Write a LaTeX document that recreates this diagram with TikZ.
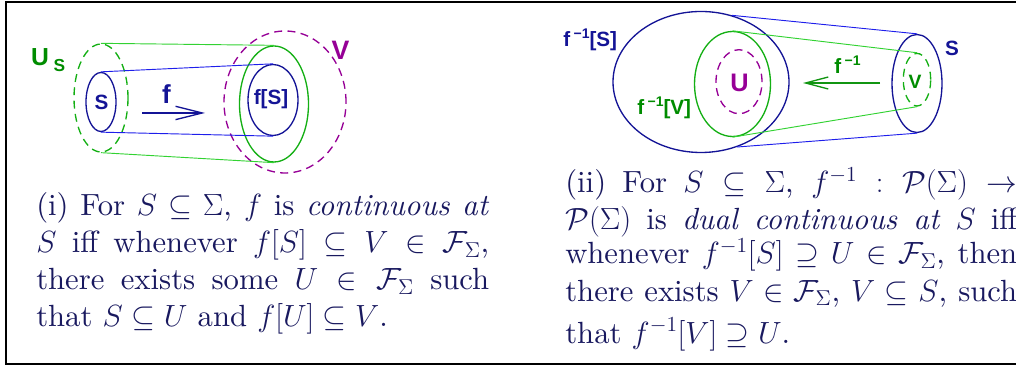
\RequirePackage{fix-cm}
\documentclass[tikz,border=0pt]{standalone}
\usepackage{fontspec}
\setmainfont{lmroman10-regular.otf}[ItalicFont=lmroman10-italic.otf]
\setsansfont{Liberation Sans}
\usetikzlibrary{shapes.geometric,arrows.meta}
\definecolor{navy}{RGB}{20,20,150}
\definecolor{blueline}{RGB}{30,30,235}
\definecolor{gell}{RGB}{20,175,20}
\definecolor{gline}{RGB}{50,210,50}
\definecolor{gtext}{RGB}{0,140,0}
\definecolor{purp}{RGB}{150,0,150}
\definecolor{textc}{RGB}{25,25,95}
\newcommand{\fsz}[1]{\fontsize{#1}{#1}\selectfont}
\newcommand{\inv}{\,\raisebox{0.42em}{\fsz{10.5}−1}}
\newcommand{\jl}[1]{\makebox[339.75pt][s]{#1}}
\newcommand{\jr}[1]{\makebox[339pt][s]{#1}}
\begin{document}
\begin{tikzpicture}[x=0.75pt,y=-0.75pt,
  ell/.style 2 args={ellipse, inner sep=0pt, minimum width={1.5pt*#1}, minimum height={1.5pt*#2}},
  solidell/.style={line width=1pt},
  dashell/.style={line width=1pt, dash pattern=on 6pt off 4pt},
  conn/.style={line width=0.7pt},
  lab/.style={inner sep=0pt, font=\sffamily\bfseries},
  tline/.style={inner sep=0pt, anchor=base west, text=textc, font=\fontsize{23}{27}\selectfont},
  maparrow/.style={line width=1pt}
]
\useasboundingbox (0,0) rectangle (1016,366);
\draw[line width=1.5pt] (1016,2) -- (6,2) -- (6,364) -- (1016,364);

% ---------- panel (i)
\node[ell={27}{54}, draw=gell, dashell] (US) at (101,98) {};
\node[ell={15}{29.5}, draw=navy, solidell] (S1) at (101,102) {};
\node[ell={61}{71}, draw=purp, dashell] (V1) at (285,102) {};
\node[ell={34.5}{58}, draw=gell, solidell] (G1) at (274,104) {};
\node[ell={25}{35.5}, draw=navy, solidell] (FS) at (273,100) {};
\draw[blueline, conn] (S1.north) -- (FS.north);
\draw[blueline, conn] (S1.south) -- (FS.south);
\draw[gline, conn] (US.north) -- (G1.north);
\draw[gline, conn] (US.south) -- (G1.south);
\coordinate (fa) at (142,113);
\coordinate (fb) at (205,113);
\draw[navy, maparrow, -{Straight Barb[length=20pt,width=10pt,line width=1pt]}] (fa) -- (fb);
\node[lab, text=navy, font=\sffamily\bfseries\fsz{19.5}, anchor=base] (flab) at (166.5,104) {f};
\node[lab, text=navy, font=\sffamily\bfseries\fsz{15.5}] (Slab) at (101.5,102.5) {S};
\node[lab, text=navy, font=\sffamily\bfseries\fsz{15.5}, anchor=base] (FSlab) at (271,105) {f[S]};
\node[lab, text=gtext, font=\sffamily\bfseries\fsz{18.5}] (Ulab) at (40,57.5) {U};
\node[lab, text=gtext, font=\sffamily\bfseries\fsz{13}] (Usub) at (59.5,66) {S};
\node[lab, text=purp, font=\sffamily\bfseries\fsz{20}] (Vlab) at (340.5,50) {V};

\node[tline] (t1a) at (36,216) {\jl{(i) For $S\subseteq\Sigma$, $f$ is \emph{continuous at}}};
\node[tline] (t1b) at (36,253) {\jl{$S$ iff whenever $f[S]\subseteq V\in\mathcal{F}_\Sigma$,}};
\node[tline] (t1c) at (36,290) {\jl{there exists some $U\in\mathcal{F}_\Sigma$ such}};
\node[tline] (t1d) at (36,326) {that $S\subseteq U$ and $f[U]\subseteq V$.};

% ---------- panel (ii)
\node[ell={88}{70.5}, draw=navy, solidell] (BS) at (701,82) {};
\node[ell={38}{52.5}, draw=gell, solidell] (FV) at (732.5,84) {};
\node[ell={23}{32}, draw=purp, dashell] (U2) at (739,81.7) {};
\node[ell={25}{49}, draw=navy, solidell] (S2) at (917,83.5) {};
\node[ell={13.7}{26.3}, draw=gell, dashell] (V2) at (917,79.7) {};
\draw[blueline, conn] (BS.65) -- (S2.north);
\draw[blueline, conn] (BS.-61) -- (S2.south);
\draw[gline, conn] (FV.north) -- (V2.north);
\draw[gline, conn] (FV.south) -- (V2.south);
\coordinate (ga) at (880,83);
\coordinate (gb) at (803,83);
\draw[gell!85!black, maparrow, -{Straight Barb[length=17pt,width=9pt,line width=1pt]}] (ga) -- (gb);
\node[lab, text=gtext, font=\sffamily\bfseries\fsz{15.5}, anchor=base west] (ginv) at (834,74) {f\inv};
\node[lab, text=navy, font=\sffamily\bfseries\fsz{15.5}, anchor=base west] (BSlab) at (563,47) {f\inv[S]};
\node[lab, text=gtext, font=\sffamily\bfseries\fsz{15.5}, anchor=base west] (FVlab) at (637,115) {f\inv[V]};
\node[lab, text=purp, font=\sffamily\bfseries\fsz{19}] (U2lab) at (739.5,82.5) {U};
\node[lab, text=gtext, font=\sffamily\bfseries\fsz{14.5}] (V2lab) at (915,82) {V};
\node[lab, text=navy, font=\sffamily\bfseries\fsz{15.5}] (S2lab) at (952,48.5) {S};

\node[tline] (t2a) at (565,193) {\jr{(ii) For $S\subseteq\Sigma$, $f^{-1}:\mathcal{P}(\Sigma)\to$}};
\node[tline] (t2b) at (565,230) {\jr{$\mathcal{P}(\Sigma)$ is \emph{dual continuous at} $S$ iff}};
\node[tline] (t2c) at (565,264) {\jr{whenever $f^{-1}[S]\supseteq U\in\mathcal{F}_\Sigma$, then}};
\node[tline] (t2d) at (565,301) {\jr{there exists $V\in\mathcal{F}_\Sigma$, $V\subseteq S$, such}};
\node[tline] (t2e) at (565,343) {that $f^{-1}[V]\supseteq U$.};
\end{tikzpicture}
\end{document}
